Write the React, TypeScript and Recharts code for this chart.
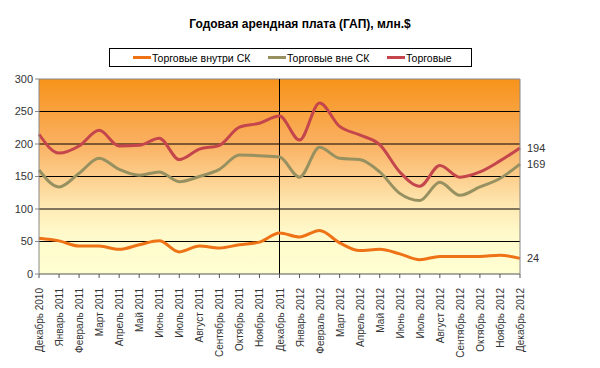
import { CartesianGrid, LabelList, Line, LineChart, ReferenceLine, XAxis, YAxis } from "recharts";

const months = [
  "Декабрь 2010", "Январь 2011", "Февраль 2011", "Март 2011", "Апрель 2011",
  "Май 2011", "Июнь 2011", "Июль 2011", "Август 2011", "Сентябрь 2011",
  "Октябрь 2011", "Ноябрь 2011", "Декабрь 2011", "Январь 2012", "Февраль 2012",
  "Март 2012", "Апрель 2012", "Май 2012", "Июнь 2012", "Июль 2012",
  "Август 2012", "Сентябрь 2012", "Октябрь 2012", "Ноябрь 2012", "Декабрь 2012",
];

const insideSK = [55, 51, 43, 43, 38, 45, 51, 34, 43, 40, 45, 49, 63, 57, 67, 48, 36, 38, 31, 22, 27, 27, 27, 29, 24];
const outsideSK = [160, 134, 155, 178, 161, 152, 157, 142, 150, 161, 183, 182, 180, 149, 195, 178, 176, 157, 124, 113, 141, 121, 134, 147, 169];
const retail = [215, 186, 197, 221, 197, 198, 209, 176, 192, 198, 226, 232, 243, 206, 263, 227, 214, 199, 157, 135, 167, 149, 157, 174, 194];

const yTicks = [0, 50, 100, 150, 200, 250, 300];

const series = [
  { key: "inside", name: "Торговые внутри СК", color: "#EE7216" },
  { key: "outside", name: "Торговые вне СК", color: "#979161" },
  { key: "retail", name: "Торговые", color: "#C4464C" },
];

const data = months.map((m, i) => ({
  month: m,
  inside: insideSK[i],
  outside: outsideSK[i],
  retail: retail[i],
}));

const FONT = "'Liberation Sans', Arial, sans-serif";

function MonthTick({ x, y, payload }: any) {
  return (
    <text
      x={0}
      y={0}
      transform={`translate(${x + 4},${y + 8}) rotate(-90)`}
      textAnchor="end"
      fontSize={10}
      fontFamily={FONT}
      fill="#333"
    >
      {payload.value}
    </text>
  );
}

// only the last point gets its value written to the right of the line end
function EndLabel({ x, y, value, index }: any) {
  if (index !== months.length - 1) return null;
  return (
    <text x={x + 7} y={y + 4} fontSize={11} fontFamily={FONT} fill="#333">
      {value}
    </text>
  );
}

export default function App() {
  return (
    <div style={{ position: "absolute", left: 0, top: 0, width: 600, height: 368, background: "#fff", fontFamily: FONT }}>
      <div style={{ position: "absolute", top: 17, width: 600, textAlign: "center", fontWeight: "bold", fontSize: 12 }}>
        Годовая арендная плата (ГАП), млн.$
      </div>
      <div
        style={{
          position: "absolute", left: 109, top: 48, width: 361, height: 17,
          border: "1px solid #000", display: "flex", alignItems: "center", fontSize: 10.5,
        }}
      >
        {series.map((s, i) => (
          <div key={s.key} style={{ position: "absolute", left: [23, 158, 277][i], display: "flex", alignItems: "center" }}>
            <div style={{ width: 18, height: 3, background: s.color, marginRight: 1 }} />
            <span>{s.name}</span>
          </div>
        ))}
      </div>
      <LineChart width={600} height={368} data={data} margin={{ top: 79, right: 40, bottom: 0, left: 0 }}>
        <defs>
          <linearGradient id="bg" x1="0" y1="0" x2="0" y2="1">
            <stop offset="0%" stopColor="#F7931A" />
            <stop offset="33%" stopColor="#FAB061" />
            <stop offset="66%" stopColor="#FEEAB5" />
            <stop offset="80%" stopColor="#FFFACB" />
            <stop offset="100%" stopColor="#FFFFD2" />
          </linearGradient>
        </defs>
        <CartesianGrid
          vertical={false}
          horizontalValues={[50, 100, 150, 200, 250]}
          stroke="#000"
          fill="url(#bg)"
          fillOpacity={1}
        />
        <ReferenceLine y={300} stroke="#888" />
        <ReferenceLine x="Декабрь 2011" stroke="#000" />
        <XAxis
          dataKey="month"
          interval={0}
          height={94}
          tick={<MonthTick />}
          tickSize={4}
          stroke="#555"
          tickLine={{ stroke: "#555" }}
        />
        <YAxis
          domain={[0, 300]}
          ticks={yTicks}
          width={39}
          tickSize={4}
          stroke="#888"
          tick={{ fill: "#333", fontSize: 11, fontFamily: FONT }}
        />
        <YAxis yAxisId="r" orientation="right" width={40} tick={false} tickLine={false} stroke="#888" domain={[0, 300]} />
        {series.map((s) => (
          <Line
            key={s.key}
            type="monotone"
            dataKey={s.key}
            name={s.name}
            stroke={s.color}
            strokeWidth={3}
            dot={false}
            isAnimationActive={false}
          >
            <LabelList dataKey={s.key} content={<EndLabel />} />
          </Line>
        ))}
      </LineChart>
    </div>
  );
}
